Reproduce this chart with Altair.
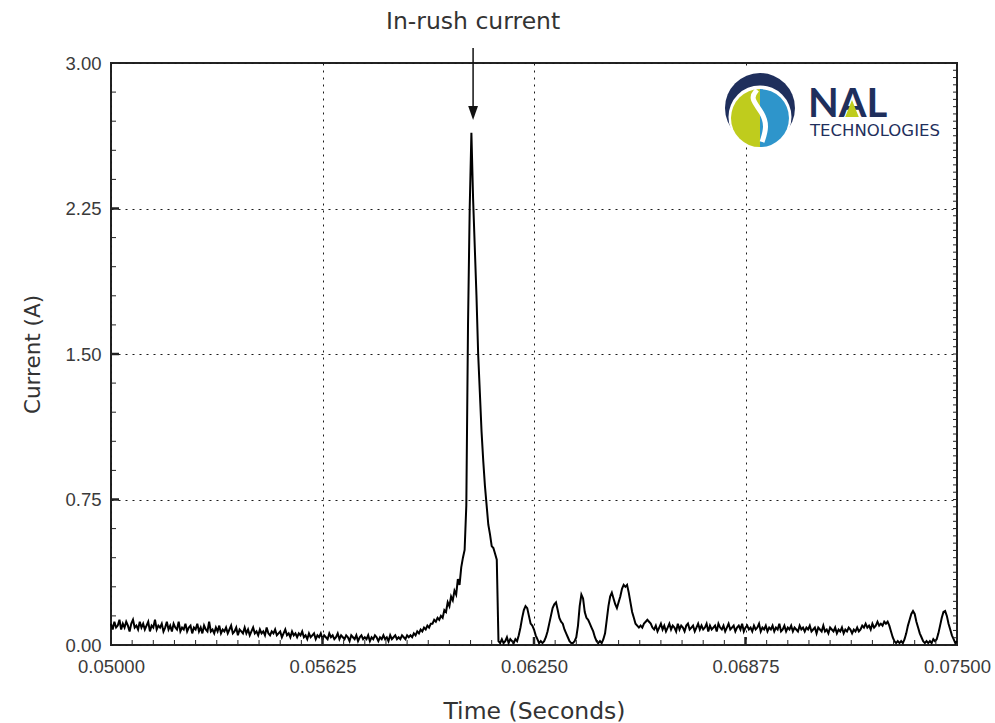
import altair as alt
import pandas as pd

# ---------------- data ----------------
start_ms = 50.0          # first sample time (ms)
step_ms = 0.05           # sampling interval (ms)

current_a = [
    # 0-99 : noisy idle current, slowly decaying
    0.11, 0.08, 0.12, 0.09, 0.10, 0.13, 0.08, 0.11, 0.09, 0.12,
    0.10, 0.07, 0.11, 0.13, 0.09, 0.10, 0.08, 0.12, 0.09, 0.11,
    0.08, 0.10, 0.12, 0.07, 0.10, 0.09, 0.13, 0.08, 0.10, 0.09,
    0.11, 0.07, 0.09, 0.12, 0.08, 0.10, 0.07, 0.11, 0.09, 0.08,
    0.12, 0.07, 0.09, 0.08, 0.11, 0.07, 0.09, 0.10, 0.06, 0.09,
    0.08, 0.11, 0.07, 0.09, 0.06, 0.10, 0.08, 0.07, 0.12, 0.07,
    0.08, 0.06, 0.09, 0.07, 0.10, 0.06, 0.08, 0.07, 0.09, 0.06,
    0.08, 0.10, 0.06, 0.07, 0.09, 0.05, 0.08, 0.07, 0.06, 0.09,
    0.06, 0.08, 0.05, 0.07, 0.09, 0.06, 0.07, 0.05, 0.08, 0.06,
    0.07, 0.05, 0.09, 0.06, 0.05, 0.07, 0.06, 0.08, 0.05, 0.06,
    # 100-179
    0.07, 0.04, 0.06, 0.08, 0.05, 0.06, 0.04, 0.07, 0.05, 0.06,
    0.04, 0.06, 0.05, 0.07, 0.04, 0.05, 0.03, 0.06, 0.04, 0.05,
    0.06, 0.03, 0.05, 0.04, 0.06, 0.03, 0.05, 0.04, 0.03, 0.06,
    0.04, 0.05, 0.03, 0.04, 0.06, 0.03, 0.05, 0.04, 0.03, 0.05,
    0.04, 0.02, 0.05, 0.04, 0.03, 0.05, 0.02, 0.04, 0.05, 0.03,
    0.04, 0.03, 0.05, 0.02, 0.04, 0.03, 0.05, 0.04, 0.02, 0.04,
    0.03, 0.05, 0.03, 0.04, 0.02, 0.05, 0.03, 0.04, 0.05, 0.03,
    0.04, 0.03, 0.05, 0.04, 0.03, 0.05, 0.04, 0.05, 0.04, 0.06,
    # 180-229 : rise, in-rush peak, decay
    0.05, 0.07, 0.06, 0.08, 0.07, 0.09, 0.08, 0.10, 0.09, 0.11,
    0.11, 0.13, 0.12, 0.14, 0.13, 0.15, 0.14, 0.18, 0.17, 0.22,
    0.20, 0.25, 0.23, 0.28, 0.26, 0.34, 0.31, 0.40, 0.45, 0.49,
    0.72, 1.65, 2.25, 2.64, 2.30, 2.05, 1.80, 1.50, 1.30, 1.10,
    0.95, 0.82, 0.72, 0.62, 0.57, 0.51, 0.50, 0.47, 0.44, 0.02,
    # 230-319 : ripple pulses
    0.01, 0.03, 0.01, 0.02, 0.04, 0.01, 0.03, 0.02, 0.01, 0.03,
    0.02, 0.05, 0.09, 0.14, 0.18, 0.20, 0.19, 0.15, 0.11, 0.10,
    0.08, 0.05, 0.03, 0.01, 0.02, 0.01, 0.02, 0.04, 0.07, 0.11,
    0.15, 0.19, 0.21, 0.22, 0.18, 0.14, 0.12, 0.11, 0.08, 0.06,
    0.04, 0.02, 0.01, 0.01, 0.02, 0.04, 0.10, 0.20, 0.26, 0.24,
    0.17, 0.14, 0.13, 0.11, 0.09, 0.07, 0.04, 0.02, 0.01, 0.02,
    0.01, 0.03, 0.06, 0.13, 0.20, 0.25, 0.27, 0.24, 0.21, 0.19,
    0.22, 0.25, 0.29, 0.31, 0.30, 0.31, 0.27, 0.22, 0.17, 0.14,
    0.11, 0.10, 0.09, 0.10, 0.09, 0.11, 0.12, 0.13, 0.12, 0.11,
    # 320-459 : steady running current
    0.09, 0.08, 0.10, 0.07, 0.09, 0.11, 0.08, 0.10, 0.07, 0.09,
    0.11, 0.08, 0.10, 0.09, 0.07, 0.11, 0.08, 0.10, 0.09, 0.07,
    0.10, 0.11, 0.08, 0.09, 0.10, 0.07, 0.09, 0.11, 0.08, 0.10,
    0.08, 0.09, 0.11, 0.07, 0.10, 0.08, 0.09, 0.10, 0.07, 0.11,
    0.09, 0.08, 0.10, 0.07, 0.09, 0.11, 0.08, 0.09, 0.10, 0.07,
    0.09, 0.10, 0.08, 0.11, 0.07, 0.09, 0.10, 0.08, 0.09, 0.07,
    0.10, 0.08, 0.09, 0.11, 0.07, 0.09, 0.08, 0.10, 0.07, 0.09,
    0.08, 0.10, 0.07, 0.09, 0.08, 0.11, 0.07, 0.08, 0.10, 0.07,
    0.09, 0.08, 0.10, 0.07, 0.09, 0.08, 0.07, 0.10, 0.08, 0.09,
    0.07, 0.09, 0.08, 0.10, 0.07, 0.08, 0.09, 0.06, 0.09, 0.08,
    0.07, 0.10, 0.07, 0.08, 0.06, 0.09, 0.08, 0.07, 0.09, 0.06,
    0.08, 0.07, 0.09, 0.06, 0.08, 0.07, 0.09, 0.08, 0.06, 0.08,
    0.07, 0.09, 0.07, 0.08, 0.10, 0.09, 0.11, 0.09, 0.10, 0.08,
    0.11, 0.09, 0.10, 0.12, 0.10, 0.11, 0.10, 0.12, 0.11, 0.12,
    # 460-500 : switch-off and two last pulses
    0.10, 0.07, 0.04, 0.02, 0.01, 0.02, 0.01, 0.02, 0.01, 0.03,
    0.06, 0.10, 0.13, 0.16, 0.175, 0.16, 0.12, 0.09, 0.06, 0.04,
    0.02, 0.01, 0.02, 0.01, 0.02, 0.01, 0.03, 0.02, 0.03, 0.06,
    0.10, 0.14, 0.17, 0.175, 0.15, 0.11, 0.08, 0.05, 0.03, 0.01,
    0.02,
]
time_s = [round((start_ms + k * step_ms) / 1000.0, 7) for k in range(len(current_a))]

x_tick_values = [0.05, 0.05625, 0.0625, 0.06875, 0.075]
y_tick_values = [0.0, 0.75, 1.5, 2.25, 3.0]
x_title = "Time (Seconds)"
y_title = "Current (A)"

annotation_label = ["In-rush current"]
annotation_time = [0.06070]
annotation_label_level = [3.173]
arrow_top = [3.077]
arrow_bottom = [2.768]
arrow_head_level = [2.742]

# logo (decoration), positions in data units
logo_center_t = [0.069178]
logo_navy_level = [2.768]
logo_white_level = [2.722]
logo_color_level = [2.716]
logo_s_t = [0.069090, 0.068883, 0.069267, 0.069385, 0.069238]
logo_s_level = [2.861, 2.820, 2.742, 2.670, 2.593]
logo_word = ["NAL"]
logo_word_t = [0.070597]
logo_word_level = [2.722]
logo_sub = ["TECHNOLOGIES"]
logo_sub_t = [0.070656]
logo_sub_level = [2.624]
logo_tri_t = [0.071897]
logo_tri_level = [2.765]
logo_box_t = [0.06800, 0.07450]
logo_box_level = [2.985, 2.575]

# minor tick positions (axis decoration)
x_minor = [0.05 + 0.000625 * k for k in range(1, 40)]
y_minor = [0.15 * k for k in range(1, 20)]
y_right_minor = [0.0375 * k for k in range(1, 80)]

# ---------------- chart ----------------
W, H = 846, 582
NAVY = "#1f2f5c"
LIME = "#bfcc1d"
BLUE = "#2e95cb"

xs = alt.Scale(domain=[0.05, 0.075], nice=False, zero=False)
ys = alt.Scale(domain=[0, 3], nice=False, zero=True)

x_axis = alt.Axis(
    values=x_tick_values, format=".5f", title=x_title, grid=True, ticks=False,
    domain=False, labelPadding=12, labelFlush=False,
    titleX=W / 2, titleY=66, titleBaseline="middle", titleAlign="center",
    titleFontSize=23.5,
)
y_axis = alt.Axis(
    values=y_tick_values, format=".2f", title=y_title, grid=True, ticks=False,
    domain=False, labelPadding=10, labelFlush=False,
    titleX=-78, titleY=H / 2, titleAngle=270, titleBaseline="middle",
    titleAlign="center", titleFontSize=21.5,
)


def X(field="t"):
    return alt.X(f"{field}:Q", scale=xs, axis=x_axis)


def Y(field="i"):
    return alt.Y(f"{field}:Q", scale=ys, axis=y_axis)


df = pd.DataFrame({"t": time_s, "i": current_a})
line = alt.Chart(df).mark_line(color="#000000", strokeWidth=2).encode(x=X(), y=Y())

tick_col = "#222222"
left_minor = alt.Chart(pd.DataFrame({"i": y_minor})).mark_rule(color=tick_col, strokeWidth=1).encode(
    y=Y(), x=alt.value(0), x2=alt.value(5))
left_major = alt.Chart(pd.DataFrame({"i": y_tick_values[1:4]})).mark_rule(color=tick_col, strokeWidth=2.5).encode(
    y=Y(), x=alt.value(0), x2=alt.value(8))
bottom_minor = alt.Chart(pd.DataFrame({"t": x_minor})).mark_rule(color=tick_col, strokeWidth=1).encode(
    x=X(), y=alt.value(H), y2=alt.value(H - 5))
bottom_major = alt.Chart(pd.DataFrame({"t": x_tick_values[1:4]})).mark_rule(color=tick_col, strokeWidth=2.5).encode(
    x=X(), y=alt.value(H), y2=alt.value(H - 8))
right_minor = alt.Chart(pd.DataFrame({"i": y_right_minor})).mark_rule(color=tick_col, strokeWidth=1).encode(
    y=Y(), x=alt.value(W), x2=alt.value(W - 4))

ann_df = pd.DataFrame({
    "t": annotation_time, "i": arrow_top, "bottom": arrow_bottom,
    "head": arrow_head_level, "lab": annotation_label_level, "text": annotation_label,
})
arrow_line = alt.Chart(ann_df).mark_rule(color="#111111", strokeWidth=1.5).encode(
    x=X(), y=Y(), y2="bottom:Q")
arrow_head = alt.Chart(ann_df).mark_point(
    shape="M-0.7,-1L0.7,-1L0,1Z", filled=True, size=196, color="#111111", opacity=1
).encode(x=X(), y=Y("head"))
ann_text = alt.Chart(ann_df).mark_text(
    font="DejaVu Sans", fontSize=23.5, color="#333333", align="center", baseline="alphabetic"
).encode(x=X(), y=Y("lab"), text="text:N")

# logo
box = alt.Chart(pd.DataFrame({"t": [logo_box_t[0]], "t2": [logo_box_t[1]],
                              "i": [logo_box_level[0]], "i2": [logo_box_level[1]]})).mark_rect(
    color="white", opacity=1).encode(x=X(), x2="t2:Q", y=Y(), y2="i2:Q")
navy_disc = alt.Chart(pd.DataFrame({"t": logo_center_t, "i": logo_navy_level})).mark_circle(
    color=NAVY, size=4900, opacity=1).encode(x=X(), y=Y())
white_disc = alt.Chart(pd.DataFrame({"t": logo_center_t, "i": logo_white_level})).mark_circle(
    color="white", size=3970, opacity=1).encode(x=X(), y=Y())
cdf = pd.DataFrame({"t": logo_center_t, "i": logo_color_level})
blue_half = alt.Chart(cdf).mark_arc(color=BLUE, radius=29, theta=0, theta2=3.14159).encode(x=X(), y=Y())
green_half = alt.Chart(cdf).mark_arc(color=LIME, radius=29, theta=3.14159, theta2=6.28318).encode(x=X(), y=Y())
s_curve = alt.Chart(pd.DataFrame({"t": logo_s_t, "i": logo_s_level, "o": list(range(len(logo_s_t)))})).mark_line(
    color="white", strokeWidth=5, interpolate="basis").encode(x=X(), y=Y(), order="o:Q")
word = alt.Chart(pd.DataFrame({"t": logo_word_t, "i": logo_word_level, "w": logo_word})).mark_text(
    font="Lato", fontSize=40, fontWeight="bold", color=NAVY, align="left", baseline="alphabetic"
).encode(x=X(), y=Y(), text="w:N")
sub = alt.Chart(pd.DataFrame({"t": logo_sub_t, "i": logo_sub_level, "w": logo_sub})).mark_text(
    font="DejaVu Sans", fontSize=16.5, color=NAVY, align="left", baseline="alphabetic"
).encode(x=X(), y=Y(), text="w:N")
tri = alt.Chart(pd.DataFrame({"t": logo_tri_t, "i": logo_tri_level})).mark_point(
    shape="M0,-1L0.8,1L-0.8,1Z", filled=True, size=289, color=LIME, opacity=1).encode(x=X(), y=Y())

chart = alt.layer(
    line, left_minor, left_major, bottom_minor, bottom_major, right_minor,
    arrow_line, arrow_head, ann_text,
    box, navy_disc, white_disc, blue_half, green_half, s_curve, word, sub, tri,
).properties(
    width=W, height=H,
    autosize=alt.AutoSizeParams(type="none"),
    padding={"left": 111, "top": 63, "right": 38, "bottom": 78},
    background="white",
).configure_axis(
    labelFont="Liberation Sans", labelFontSize=18.5, labelColor="#3a3a3a",
    titleFont="DejaVu Sans", titleFontWeight="normal", titleColor="#333333",
    gridColor="#1a1a1a", gridDash=[2, 5], gridWidth=1, gridOpacity=1,
).configure_view(stroke="#222222", strokeWidth=2)

chart.save("out.html", embed_options={"renderer": "svg", "actions": False})
